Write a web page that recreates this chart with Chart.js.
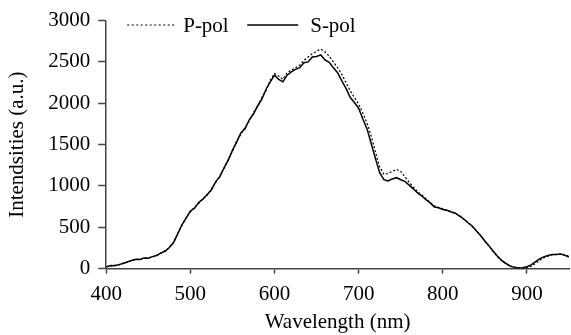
<!DOCTYPE html>
<html>
<head>
<meta charset="utf-8">
<script src="https://cdn.jsdelivr.net/npm/chart.js@4"></script>
<style>
  body { margin: 0; background: #fff; }
  canvas { display: block; }
</style>
</head>
<body>
<canvas id="chart" width="571" height="335"></canvas>
<script>
const wavelengths = [
  400, 405, 410, 415, 420, 425, 430, 435, 440, 445,
  450, 455, 460, 465, 470, 475, 480, 485, 490, 495,
  500, 505, 510, 515, 520, 525, 530, 535, 540, 545,
  550, 555, 560, 565, 570, 575, 580, 585, 590, 595,
  600, 605, 610, 615, 620, 625, 630, 635, 640, 645,
  650, 655, 660, 665, 670, 675, 680, 685, 690, 695,
  700, 705, 710, 715, 720, 725, 730, 735, 740, 745,
  750, 755, 760, 765, 770, 775, 780, 785, 790, 795,
  800, 805, 810, 815, 820, 825, 830, 835, 840, 845,
  850, 855, 860, 865, 870, 875, 880, 885, 890, 895,
  900, 905, 910, 915, 920, 925, 930, 935, 940, 945,
  950
];
const pPol = [
  22, 32, 40, 45, 66, 76, 100, 108, 118, 124,
  132, 140, 162, 185, 218, 250, 310, 430, 520, 620,
  685, 745, 790, 850, 885, 965, 1040, 1125, 1205, 1325,
  1415, 1545, 1625, 1710, 1785, 1890, 1955, 2070, 2155, 2280,
  2360, 2330, 2290, 2370, 2400, 2430, 2460, 2520, 2560, 2600,
  2630, 2655, 2620, 2570, 2500, 2430, 2350, 2250, 2150, 2070,
  1990, 1880, 1760, 1600, 1410, 1230, 1140, 1150, 1175, 1200,
  1175, 1110, 1045, 985, 930, 890, 845, 800, 760, 740,
  725, 700, 690, 665, 640, 595, 560, 505, 460, 395,
  330, 270, 205, 145, 95, 58, 28, 18, 12, 6,
  10, 28, 62, 98, 128, 150, 165, 172, 176, 168,
  150
];
const sPol = [
  20, 38, 35, 48, 62, 80, 98, 112, 110, 128,
  125, 145, 158, 190, 210, 255, 315, 420, 530, 610,
  695, 730, 800, 840, 895, 950, 1050, 1110, 1220, 1310,
  1430, 1530, 1640, 1690, 1800, 1870, 1970, 2050, 2170, 2260,
  2340, 2290, 2260, 2340, 2380, 2410, 2430, 2490, 2500, 2560,
  2565, 2585, 2525, 2495, 2430, 2370, 2270, 2180, 2070, 2010,
  1940, 1810, 1690, 1510, 1330, 1160, 1075, 1060, 1085, 1100,
  1075, 1055, 1010, 965, 915, 880, 835, 795, 745, 735,
  715, 705, 685, 670, 635, 600, 555, 515, 455, 400,
  335, 275, 210, 150, 100, 62, 32, 15, 8, 10,
  22, 45, 82, 118, 142, 158, 172, 170, 176, 160,
  140
];
const xTicks = [400, 500, 600, 700, 800, 900];
const yTicks = [0, 500, 1000, 1500, 2000, 2500, 3000];
const seriesNames = ['P-pol', 'S-pol'];

const serif = "'Liberation Serif', 'Times New Roman', serif";
const font = { family: serif, size: 21 };

// legend drawn by hand so it can sit over the top of the plot like the original
const lineLegend = {
  id: 'lineLegend',
  afterDraw(chart) {
    const ctx = chart.ctx;
    const left = chart.chartArea.left;
    const y = 25;
    ctx.save();
    ctx.strokeStyle = '#000';
    ctx.fillStyle = '#000';
    ctx.font = '21px ' + serif;
    ctx.textBaseline = 'alphabetic';

    ctx.lineWidth = 1.2;
    ctx.setLineDash([2, 2.5]);
    ctx.beginPath();
    ctx.moveTo(left + 21, y);
    ctx.lineTo(left + 69, y);
    ctx.stroke();
    ctx.fillText(seriesNames[0], left + 77, 32);

    ctx.lineWidth = 1.5;
    ctx.setLineDash([]);
    ctx.beginPath();
    ctx.moveTo(left + 141, y);
    ctx.lineTo(left + 192, y);
    ctx.stroke();
    ctx.fillText(seriesNames[1], left + 204, 32);
    ctx.restore();
  }
};

new Chart(document.getElementById('chart'), {
  type: 'line',
  data: {
    datasets: [{
      label: seriesNames[0],
      data: wavelengths.map((w, i) => ({ x: w, y: pPol[i] })),
      borderColor: '#000',
      borderWidth: 1.2,
      borderDash: [2, 2],
      pointRadius: 0,
      tension: 0
    }, {
      label: seriesNames[1],
      data: wavelengths.map((w, i) => ({ x: w, y: sPol[i] })),
      borderColor: '#000',
      borderWidth: 1.5,
      pointRadius: 0,
      tension: 0
    }]
  },
  options: {
    responsive: false,
    animation: false,
    layout: { padding: { top: 17, right: 2, left: 2, bottom: 0 } },
    plugins: { legend: { display: false }, tooltip: { enabled: false } },
    scales: {
      x: {
        type: 'linear',
        min: 400,
        max: 950,
        afterBuildTicks: s => { s.ticks = xTicks.map(v => ({ value: v })); },
        ticks: { font, color: '#000', padding: 8, maxRotation: 0, callback: v => String(v) },
        grid: { drawOnChartArea: false, tickLength: 5, color: '#444', tickWidth: 1.5 },
        border: { color: '#444', width: 1.5 },
        title: { display: true, text: 'Wavelength (nm)', font, color: '#000', padding: { top: -5, bottom: 0 } }
      },
      y: {
        min: 0,
        max: 3000,
        afterBuildTicks: s => { s.ticks = yTicks.map(v => ({ value: v })); },
        ticks: { font, color: '#000', padding: 8, callback: v => String(v) },
        grid: { drawOnChartArea: false, tickLength: 8, color: '#444', tickWidth: 1.5 },
        border: { color: '#444', width: 1.5 },
        title: { display: true, text: 'Intendsities (a.u.)', font, color: '#000', padding: { top: 3, bottom: 10 } }
      }
    }
  },
  plugins: [lineLegend]
});
</script>
</body>
</html>
